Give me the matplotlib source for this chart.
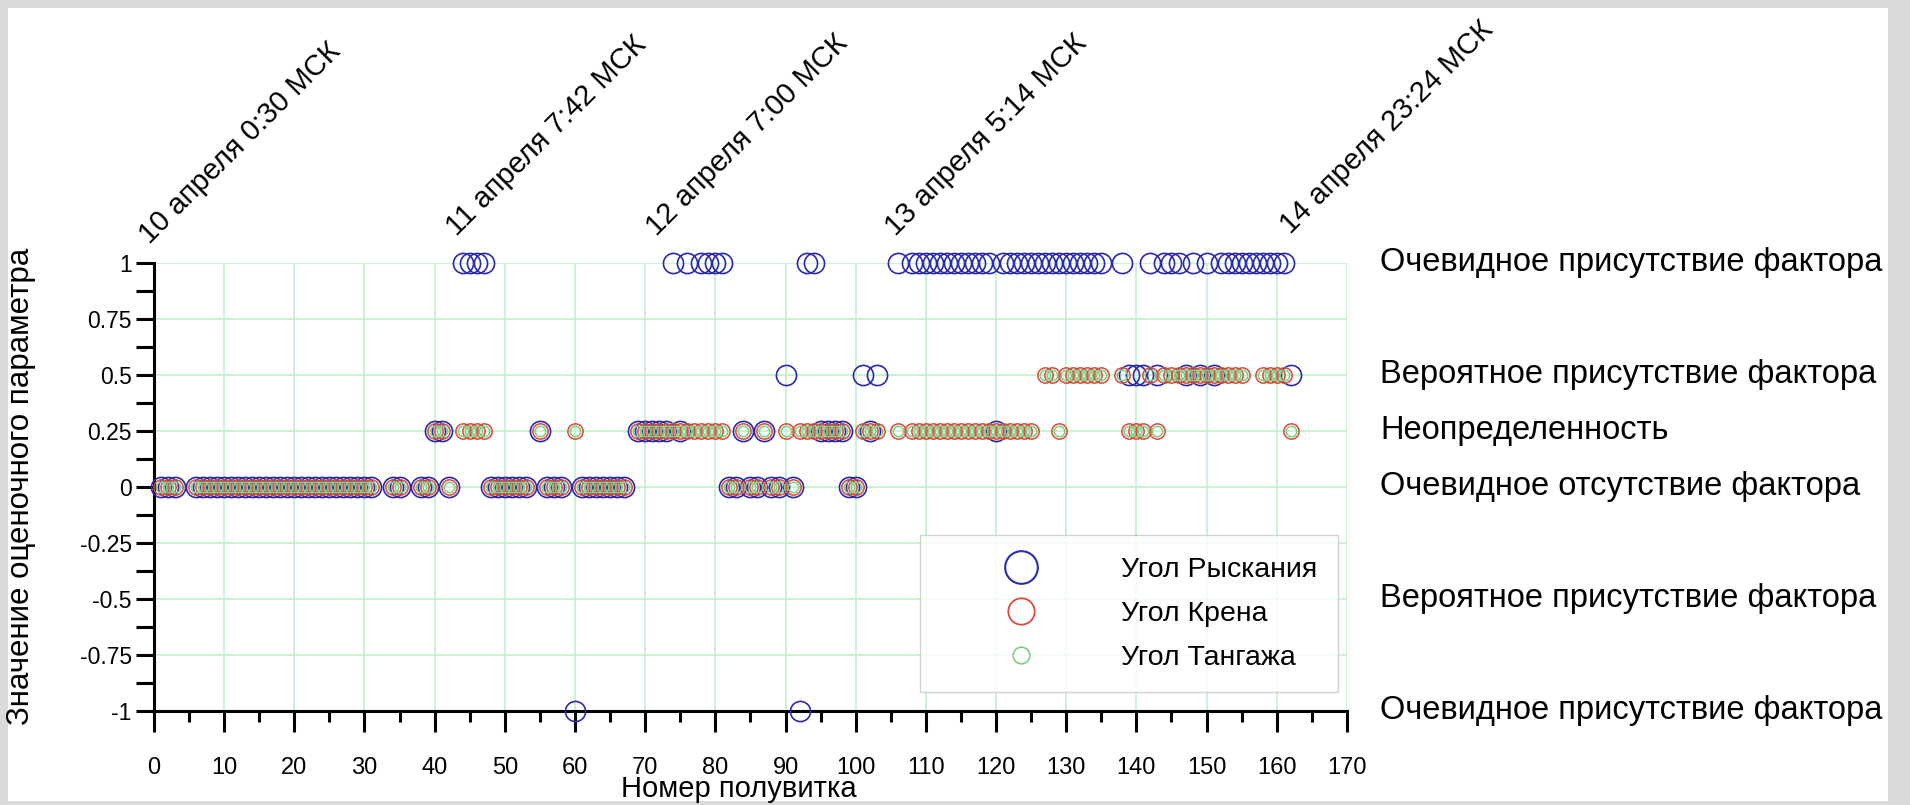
import numpy as np
import matplotlib
matplotlib.use("Agg")
import matplotlib.pyplot as plt
from matplotlib.lines import Line2D
from matplotlib.patches import Rectangle
from matplotlib.ticker import MultipleLocator, FuncFormatter

plt.rcParams["font.family"] = ["Liberation Sans", "DejaVu Sans"]
plt.rcParams["axes.unicode_minus"] = False

# ---------- данные: номера полувитков по уровням оценочного параметра ----------
# Угол рыскания
yaw_1 = [44, 45, 46, 47, 74, 76, 78, 79, 80, 81, 93, 94, 106,
         108, 109, 110, 111, 112, 113, 114, 115, 116, 117, 118, 119,
         121, 122, 123, 124, 125, 126, 127, 128, 129, 130, 131, 132, 133, 134, 135,
         138, 142, 144, 145, 146, 148, 150, 152, 153, 154, 155, 156, 157,
         158, 159, 160, 161]
yaw_05 = [90, 101, 103, 139, 140, 141, 143, 147, 149, 151, 162]
yaw_025 = [40, 41, 55, 69, 70, 71, 72, 73, 75, 84, 87, 95, 96, 97, 98, 102, 120]
yaw_0 = [1, 2, 3, 6, 7, 8, 9, 10, 11, 12, 13, 14, 15, 16, 17, 18, 19, 20,
         21, 22, 23, 24, 25, 26, 27, 28, 29, 30, 31, 34, 35, 38, 39, 42,
         48, 49, 50, 51, 52, 53, 56, 57, 58, 61, 62, 63, 64, 65, 66, 67,
         82, 83, 85, 86, 88, 89, 91, 99, 100]
yaw_m1 = [60, 92]

# Угол крена
roll_05 = [127, 128, 130, 131, 132, 133, 134, 135, 138, 142,
           144, 145, 146, 147, 148, 149, 150, 151, 152, 153, 154, 155,
           158, 159, 160, 161]
roll_025 = [40, 41, 44, 45, 46, 47, 55, 60, 69, 70, 71, 72, 73, 74, 75, 76,
            77, 78, 79, 80, 81, 84, 87, 90, 92, 93, 94, 95, 96, 97, 98,
            101, 102, 103, 106, 108, 109, 110, 111, 112, 113, 114, 115, 116,
            117, 118, 119, 120, 121, 122, 123, 124, 125, 129, 139, 140, 141,
            143, 162]
roll_0 = [1, 2, 3, 6, 7, 8, 9, 10, 11, 12, 13, 14, 15, 16, 17, 18, 19, 20,
          21, 22, 23, 24, 25, 26, 27, 28, 29, 30, 31, 34, 35, 38, 39, 42,
          48, 49, 50, 51, 52, 53, 56, 57, 58, 61, 62, 63, 64, 65, 66, 67,
          82, 83, 85, 86, 88, 89, 91, 99, 100]

# Угол тангажа - на картинке везде внутри кружков крена
pitch_05 = roll_05
pitch_025 = roll_025
pitch_0 = roll_0

right_levels = [1, 0.5, 0.25, 0, -0.5, -1]
right_labels = ["Очевидное присутствие фактора",
                "Вероятное присутствие фактора",
                "Неопределенность",
                "Очевидное отсутствие фактора",
                "Вероятное присутствие фактора",
                "Очевидное присутствие фактора"]

date_labels = ["10 апреля 0:30 МСК", "11 апреля 7:42 МСК", "12 апреля 7:00 МСК",
               "13 апреля 5:14 МСК", "14 апреля 23:24 МСК"]
date_x = [-0.6, 43.2, 71.7, 105.7, 162]
date_y = [1.08, 1.115, 1.115, 1.115, 1.125]

legend_names = ["Угол Рыскания", "Угол Крена", "Угол Тангажа"]


def collect(levels):
    xs, ys = [], []
    for val, pts in levels:
        xs += pts
        ys += [val] * len(pts)
    return np.array(xs), np.array(ys)


yaw_x, yaw_y = collect([(1, yaw_1), (0.5, yaw_05), (0.25, yaw_025), (0, yaw_0), (-1, yaw_m1)])
roll_x, roll_y = collect([(0.5, roll_05), (0.25, roll_025), (0, roll_0)])
pitch_x, pitch_y = collect([(0.5, pitch_05), (0.25, pitch_025), (0, pitch_0)])

BLUE = "#2a2ab0"
RED = "#d84a3c"
GREEN = "#7ccf80"

fig = plt.figure(figsize=(19.1, 8.05), dpi=100)
fig.patch.set_facecolor("#dadada")
# белое поле внутри серой рамки
fig.add_artist(Rectangle((8 / 1910, 4 / 805), 1880 / 1910, 793 / 805,
                         transform=fig.transFigure, facecolor="white",
                         edgecolor="none", zorder=-10))

ax = fig.add_axes([0.0806, 0.1171, 0.6246, 0.5566])
ax.set_facecolor("white")

ax.plot(yaw_x, yaw_y, ls="none", marker="o", ms=14.5, mfc="none", mec=BLUE, mew=1.2,
        clip_on=False, zorder=3)
ax.plot(roll_x, roll_y, ls="none", marker="o", ms=11, mfc="none", mec=RED, mew=1.1,
        clip_on=False, zorder=4)
ax.plot(pitch_x, pitch_y, ls="none", marker="o", ms=7.5, mfc="none", mec=GREEN, mew=1.1,
        clip_on=False, zorder=5)

ax.set_xlim(0, 170)
ax.set_ylim(-1, 1)
ax.xaxis.set_major_locator(MultipleLocator(10))
ax.xaxis.set_minor_locator(MultipleLocator(5))
ax.yaxis.set_major_locator(MultipleLocator(0.25))
ax.yaxis.set_minor_locator(MultipleLocator(0.125))
ax.yaxis.set_major_formatter(FuncFormatter(lambda v, p: f"{v:g}"))

ax.grid(True, which="major", color="#bfeec6", lw=1.1, zorder=0)
ax.set_axisbelow(True)
for side in ("top", "right"):
    ax.spines[side].set_visible(False)
for side in ("left", "bottom"):
    ax.spines[side].set_linewidth(2.2)

ax.tick_params(axis="x", which="major", direction="out", length=15, width=2.2,
               labelsize=17, pad=18)
ax.tick_params(axis="x", which="minor", direction="out", length=8, width=2.2)
ax.tick_params(axis="y", which="both", direction="out", length=13, width=2.2,
               labelsize=16.5, pad=3)

ax.set_xlabel("Номер полувитка", fontsize=21)
ax.xaxis.set_label_coords(0.49, -0.143)
ax.set_ylabel("Значение оценочного параметра", fontsize=22.5)
ax.yaxis.set_label_coords(-0.099, 0.5)

# подписи уровней справа
for lv, txt in zip(right_levels, right_labels):
    ax.text(1.0277, lv, txt, transform=ax.get_yaxis_transform(), fontsize=23.5,
            va="center", ha="left")

# даты над графиком
for x, y, txt in zip(date_x, date_y, date_labels):
    ax.text(x, y, txt, rotation=45, rotation_mode="anchor", ha="left",
            va="baseline", fontsize=21, clip_on=False)

handles = [Line2D([], [], ls="none", marker="o", ms=23.5, mfc="none", mec=BLUE, mew=1.5),
           Line2D([], [], ls="none", marker="o", ms=19, mfc="none", mec=RED, mew=1.3),
           Line2D([], [], ls="none", marker="o", ms=12, mfc="none", mec=GREEN, mew=1.2)]
leg = ax.legend(handles, legend_names, loc="lower left", bbox_to_anchor=(0.642, 0.042),
                fontsize=20.5, frameon=True, fancybox=False, borderpad=0.75,
                handlelength=5.6, handletextpad=0.7, labelspacing=0.63,
                borderaxespad=0)
leg.get_frame().set_edgecolor("#c8c8c8")
leg.get_frame().set_linewidth(1.0)

fig.savefig("out.png", dpi=100, facecolor=fig.get_facecolor())
